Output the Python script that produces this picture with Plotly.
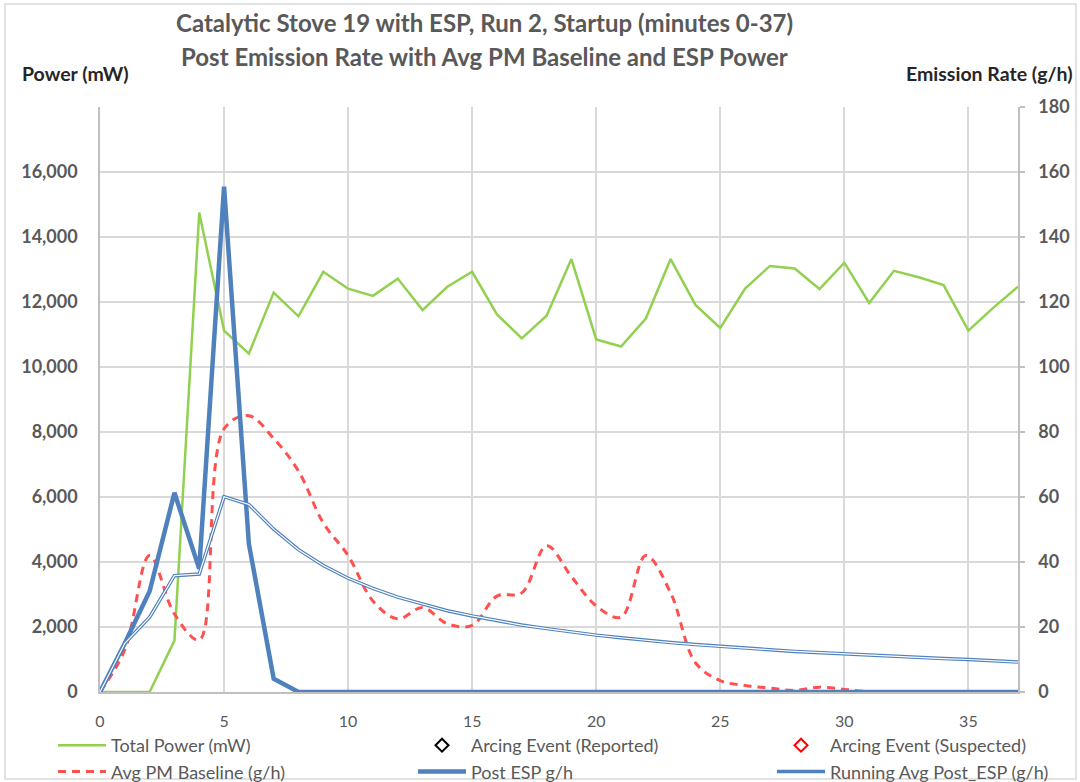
import plotly.graph_objects as go

# ---- data ----
minutes = [0, 1, 2, 3, 4, 5, 6, 7, 8, 9, 10, 11, 12, 13, 14, 15, 16, 17, 18, 19,
           20, 21, 22, 23, 24, 25, 26, 27, 28, 29, 30, 31, 32, 33, 34, 35, 36, 37]

total_power_mw = [0, 0, 0, 1580, 14750, 11120, 10410, 12290, 11560, 12930,
                  12410, 12190, 12720, 11750, 12470, 12930, 11620, 10880, 11580, 13320,
                  10850, 10630, 11490, 13320, 11910, 11200, 12410, 13110, 13030, 12400,
                  13210, 11970, 12960, 12760, 12520, 11120, 11820, 12470]

avg_pm_baseline = [0, 13, 42, 24, 16, 81, 85, 78, 68, 52,
                   42, 28, 22.5, 26, 21, 20.5, 29.5, 30.5, 45, 35.5,
                   26.5, 23, 42, 30.5, 9, 3.5, 2, 1.2, 0.5, 1.5,
                   0.8, 0.1, 0, 0, 0, 0, 0, 0]

post_esp = [0, 15, 31, 61.3, 37.9, 155.5, 45.6, 4.1, 0, 0,
            0, 0, 0, 0, 0, 0, 0, 0, 0, 0,
            0, 0, 0, 0, 0, 0, 0, 0, 0, 0,
            0, 0, 0, 0, 0, 0, 0, 0]

running_avg_post_esp = [0, 15, 23, 35.8, 36.3, 60.1, 57.7, 50.1, 43.8, 38.9,
                        35.0, 31.9, 29.2, 27.0, 25.0, 23.4, 21.9, 20.6, 19.5, 18.4,
                        17.5, 16.7, 15.9, 15.2, 14.6, 14.0, 13.5, 13.0, 12.5, 12.1,
                        11.7, 11.3, 11.0, 10.6, 10.3, 10.0, 9.7, 9.2]

arcing_reported_x, arcing_reported_y = [None], [None]
arcing_suspected_x, arcing_suspected_y = [None], [None]

left_ticks = [0, 2000, 4000, 6000, 8000, 10000, 12000, 14000, 16000]
right_ticks = [0, 20, 40, 60, 80, 100, 120, 140, 160, 180]
x_ticks = [0, 5, 10, 15, 20, 25, 30, 35]

title_line1 = "Catalytic Stove 19 with ESP, Run 2, Startup (minutes 0-37)"
title_line2 = "Post Emission Rate with Avg PM Baseline and ESP Power"

# ---- styling ----
FONT = "Lato"
GRAY = "#595959"
GRID = "#D9D9D9"
AXLINE = "#BFBFBF"
GREEN = "#92D050"
RED = "#FF5050"
BLUE = "#4F81BD"

fig = go.Figure()

fig.add_trace(go.Scatter(x=minutes, y=total_power_mw, name="Total Power (mW)", legend="legend",
                         mode="lines", line=dict(color=GREEN, width=2.5), yaxis="y"))
fig.add_trace(go.Scatter(x=arcing_reported_x, y=arcing_reported_y, name="Arcing Event (Reported)",
                         legend="legend2", mode="markers",
                         marker=dict(symbol="diamond-open", color="black", size=10,
                                     line=dict(width=2)), yaxis="y2"))
fig.add_trace(go.Scatter(x=arcing_suspected_x, y=arcing_suspected_y, name="Arcing Event (Suspected)",
                         legend="legend3", mode="markers",
                         marker=dict(symbol="diamond-open", color="red", size=10,
                                     line=dict(width=2)), yaxis="y2"))
fig.add_trace(go.Scatter(x=minutes, y=avg_pm_baseline, name="Avg PM Baseline (g/h)", legend="legend",
                         mode="lines", line=dict(color=RED, width=3, dash="8px,6px",
                                                 shape="spline", smoothing=1.0), yaxis="y2"))
fig.add_trace(go.Scatter(x=minutes, y=post_esp, name="Post ESP g/h", legend="legend2",
                         mode="lines", line=dict(color=BLUE, width=4.5), yaxis="y2"))
fig.add_trace(go.Scatter(x=minutes, y=running_avg_post_esp, name="Running Avg Post_ESP (g/h)",
                         legend="legend3", mode="lines", line=dict(color=BLUE, width=3.5), yaxis="y2"))
fig.add_trace(go.Scatter(x=minutes, y=running_avg_post_esp, name="Running Avg Post_ESP (g/h)",
                         mode="lines", line=dict(color="white", width=1.2), yaxis="y2",
                         showlegend=False, hoverinfo="skip"))

W, H = 1080, 782
L, R, T, B = 100, 62, 107, 90

ytickfont = dict(size=18, color=GRAY, family=FONT, weight="bold")
xtickfont = dict(size=16, color=GRAY, family=FONT)
legfont = dict(size=18, color=GRAY, family=FONT)
leg_common = dict(orientation="v", xref="container", yref="container",
                  xanchor="left", yanchor="top", itemwidth=48, font=legfont,
                  tracegroupgap=0, bgcolor="rgba(0,0,0,0)")
LEG_TOP = 727

fig.update_layout(
    width=W, height=H,
    margin=dict(l=L, r=R, t=T, b=B, autoexpand=False),
    paper_bgcolor="white", plot_bgcolor="white",
    font=dict(family=FONT, color=GRAY),
    showlegend=True,
    xaxis=dict(range=[0, 37], tickvals=x_ticks, showgrid=True, gridcolor=GRID, gridwidth=1.5,
               showline=True, linecolor=AXLINE, linewidth=1.5, zeroline=False,
               ticks="", tickfont=xtickfont, ticklabelstandoff=14),
    yaxis=dict(range=[0, 18000], tickvals=left_ticks, tickformat=",d", showgrid=True,
               gridcolor=GRID, gridwidth=1.5, showline=True, linecolor=AXLINE, linewidth=1.5,
               zeroline=False, ticks="", ticklabelstandoff=17, tickfont=ytickfont),
    yaxis2=dict(range=[0, 180], tickvals=right_ticks, overlaying="y", side="right",
                showgrid=False, showline=True, linecolor=AXLINE, linewidth=1.5, zeroline=False,
                ticks="outside", ticklen=5, tickcolor=AXLINE, tickwidth=1.5,
                ticklabelstandoff=10, tickfont=ytickfont),
    legend=dict(x=53 / W, y=(H - LEG_TOP) / H, **leg_common),
    legend2=dict(x=413 / W, y=(H - LEG_TOP) / H, **leg_common),
    legend3=dict(x=772 / W, y=(H - LEG_TOP) / H, **leg_common),
)

def px_x(p):
    return (p - L) / (W - L - R)

def px_y(p):
    return (H - B - p) / (H - T - B)

annotations = [
    dict(text=f"<b>{title_line1}</b>", x=px_x(484), y=px_y(22), xref="paper", yref="paper",
         showarrow=False, xanchor="center", yanchor="middle",
         font=dict(size=24, color=GRAY, family=FONT)),
    dict(text=f"<b>{title_line2}</b>", x=px_x(484), y=px_y(56), xref="paper", yref="paper",
         showarrow=False, xanchor="center", yanchor="middle",
         font=dict(size=24, color=GRAY, family=FONT)),
    dict(text="<b>Power (mW)</b>", x=px_x(20), y=px_y(73), xref="paper", yref="paper",
         showarrow=False, xanchor="left", yanchor="middle",
         font=dict(size=19.5, color="#262626", family=FONT)),
    dict(text="<b>Emission Rate (g/h)</b>", x=px_x(1075), y=px_y(73), xref="paper", yref="paper",
         showarrow=False, xanchor="right", yanchor="middle",
         font=dict(size=19.5, color="#262626", family=FONT)),
]
fig.update_layout(annotations=annotations)

fig.add_shape(type="rect", xref="paper", yref="paper",
              x0=px_x(5), x1=px_x(1076), y0=px_y(779), y1=px_y(4),
              line=dict(color="#D9D9D9", width=1.5), fillcolor="rgba(0,0,0,0)", layer="below")

fig.write_html("out.html", config={"displayModeBar": False},
               post_script="document.body.style.margin='0';document.body.style.padding='0';")
